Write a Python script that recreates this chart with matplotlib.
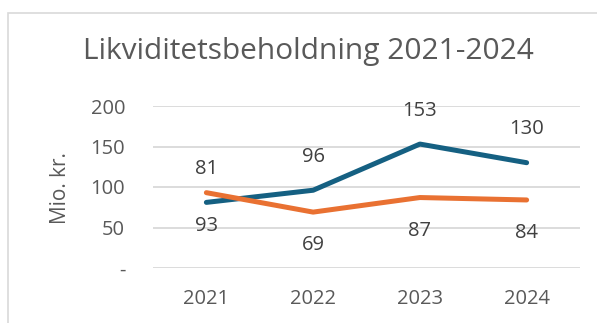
import matplotlib.pyplot as plt
from matplotlib.patches import Rectangle

years = ['2021', '2022', '2023', '2024']
blue_vals = [81, 96, 153, 130]
orange_vals = [93, 69, 87, 84]
y_ticks = [0, 50, 100, 150, 200]
y_tick_labels = ['-', '50', '100', '150', '200']

blue = '#156082'
orange = '#E97132'
txt = '#595959'
grid = '#D9D9D9'

plt.rcParams['font.family'] = ['Open Sans', 'DejaVu Sans']

fig = plt.figure(figsize=(5.97, 3.23), dpi=100)
fig.patches.append(Rectangle((8 / 597, -0.1), 1.2, 1 - 13 / 323 + 0.1,
                             transform=fig.transFigure, fill=False,
                             edgecolor=grid, lw=1.2))

ax = fig.add_axes([153 / 597, 1 - 268 / 323, 427 / 597, 162 / 323])
x = range(len(years))
ax.plot(x, blue_vals, color=blue, lw=3.6, solid_capstyle='round', zorder=3)
ax.plot(x, orange_vals, color=orange, lw=3.6, solid_capstyle='round', zorder=3)

for i, v in enumerate(blue_vals):
    ax.annotate(str(v), (i, v), xytext=(0, 24), textcoords='offset points',
                ha='center', va='center', fontsize=14.5, color='#404040')
for i, v in enumerate(orange_vals):
    ax.annotate(str(v), (i, v), xytext=(0, -24), textcoords='offset points',
                ha='center', va='center', fontsize=14.5, color='#404040')

ax.set_xlim(-0.5, 3.5)
ax.set_ylim(0, 200)
ax.set_xticks(list(x))
ax.set_xticklabels(years)
ax.set_yticks(y_ticks)
ax.set_yticklabels(y_tick_labels)
ax.tick_params(axis='both', length=0, labelsize=14.5, labelcolor=txt)
ax.tick_params(axis='y', pad=20)
ax.tick_params(axis='x', pad=15)
ax.grid(axis='y', color=grid, lw=1.3)
ax.set_axisbelow(True)
for s in ax.spines.values():
    s.set_visible(False)

fig.text(60 / 597, 1 - 188 / 323, 'Mio. kr.', rotation=90, ha='center',
         va='center', fontsize=15, color=txt)
fig.text(308 / 597, 1 - 52 / 323, 'Likviditetsbeholdning 2021-2024',
         ha='center', va='center', fontsize=21.5, color=txt)

fig.savefig('out.png', dpi=100)
